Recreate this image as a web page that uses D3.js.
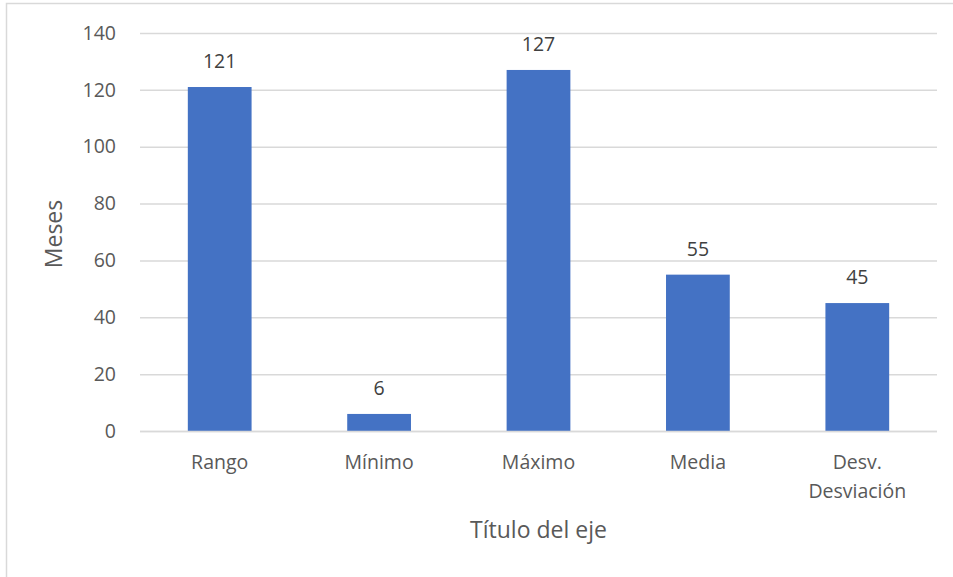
<!DOCTYPE html>
<html><head><meta charset="utf-8">
<script src="https://cdn.jsdelivr.net/npm/d3@7"></script>
<style>body{margin:0;background:#fff;font-family:"Open Sans","Noto Sans",sans-serif;}</style>
</head><body>
<svg id="c" width="953" height="577"></svg>
<script>
const categories = [["Rango"],["Mínimo"],["Máximo"],["Media"],["Desv.","Desviación"]];
const values = [121, 6, 127, 55, 45];
const yTicks = [0,20,40,60,80,100,120,140];
const yTitle = "Meses";
const xTitle = "Título del eje";

const svg = d3.select("#c");
svg.append("rect").attr("x",6.5).attr("y",3.5).attr("width",960).attr("height",590)
  .attr("fill","#fff").attr("stroke","#d9d9d9").attr("stroke-width",1.5);

const pL=140, pR=937, pT=33, pB=431;
const x = d3.scaleBand().domain(d3.range(values.length)).range([pL,pR]).padding(0);
const y = d3.scaleLinear().domain([0,140]).range([pB,pT]);

const ya = svg.append("g").attr("transform",`translate(${pL},0)`)
  .call(d3.axisLeft(y).tickValues(yTicks).tickSize(-(pR-pL)).tickPadding(24));
ya.select(".domain").remove();
ya.selectAll(".tick line").attr("stroke","#d9d9d9").attr("stroke-width",1.5);
ya.selectAll(".tick text").attr("fill","#595959").style("font-size","19.5px").style("font-family","Open Sans");

const bw = x.bandwidth()*0.4;
svg.selectAll("rect.bar").data(values).join("rect").attr("class","bar")
  .attr("x",(d,i)=>x(i)+x.bandwidth()/2-bw/2).attr("width",bw)
  .attr("y",d=>y(d)).attr("height",d=>pB-y(d)).attr("fill","#4472c4");

svg.append("line").attr("x1",pL).attr("x2",pR).attr("y1",pB+0.5).attr("y2",pB+0.5)
  .attr("stroke","#d9d9d9").attr("stroke-width",1.5);

svg.selectAll("text.val").data(values).join("text").attr("class","val")
  .attr("x",(d,i)=>x(i)+x.bandwidth()/2).attr("y",d=>y(d)-19)
  .attr("text-anchor","middle").attr("fill","#404040").style("font-size","19.5px").text(d=>d);

categories.forEach((lines,i)=>{
  const t = svg.append("text").attr("x",x(i)+x.bandwidth()/2).attr("y",469)
    .attr("text-anchor","middle").attr("fill","#595959").style("font-size","19.5px");
  lines.forEach((l,j)=>t.append("tspan").attr("x",x(i)+x.bandwidth()/2).attr("dy",j?29:0).text(l));
});

svg.append("text").attr("x",(pL+pR)/2).attr("y",538).attr("text-anchor","middle")
  .attr("fill","#595959").style("font-size","23px").text(xTitle);
svg.append("text").attr("transform",`translate(62,234) rotate(-90)`)
  .attr("text-anchor","middle").attr("fill","#595959").style("font-size","23px").text(yTitle);
</script>
</body></html>
